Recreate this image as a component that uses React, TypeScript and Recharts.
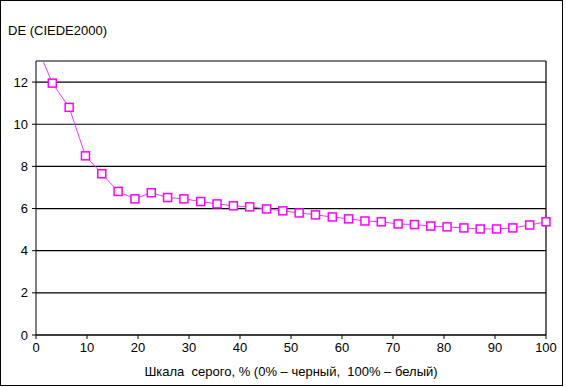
import { CartesianGrid, Line, LineChart, ReferenceLine, XAxis, YAxis } from "recharts";

const grayPercent = [
  0, 3.2, 6.5, 9.7, 12.9, 16.1, 19.4, 22.6, 25.8, 29, 32.3, 35.5, 38.7, 41.9, 45.2, 48.4,
  51.6, 54.8, 58.1, 61.3, 64.5, 67.7, 71, 74.2, 77.4, 80.6, 83.9, 87.1, 90.3, 93.5, 96.8, 100,
];
const deltaE = [
  13.8, 11.95, 10.8, 8.5, 7.65, 6.81, 6.46, 6.75, 6.52, 6.46, 6.33, 6.22, 6.13, 6.08, 5.98, 5.89,
  5.79, 5.7, 5.6, 5.51, 5.41, 5.37, 5.27, 5.24, 5.17, 5.13, 5.08, 5.03, 5.03, 5.08, 5.22, 5.37,
];
const xTicks = [0, 10, 20, 30, 40, 50, 60, 70, 80, 90, 100];
const yTicks = [0, 2, 4, 6, 8, 10, 12];

const data = grayPercent.map((x, i) => ({ x, de: deltaE[i] }));

const font = "'Liberation Sans', Arial, sans-serif";

function SquareDot(props: any) {
  const { cx, cy, payload } = props;
  if (cx == null || cy == null || payload.de > 13) return null;
  return <rect x={cx - 4} y={cy - 4} width={8} height={8} fill="#fff" stroke="#ff00ff" strokeWidth={1.5} />;
}

export default function App() {
  return (
    <div style={{ position: "absolute", left: 0, top: 0, width: 566, height: 387, background: "#fff", fontFamily: font }}>
      <div style={{ position: "absolute", left: 0, top: 0, width: 563, height: 386, boxSizing: "border-box", border: "1px solid #000" }} />
      <div style={{ position: "absolute", left: 8, top: 23, fontSize: 13, color: "#000" }}>DE (CIEDE2000)</div>
      <div style={{ position: "absolute", left: 36, width: 510, top: 364, textAlign: "center", fontSize: 13, color: "#000", whiteSpace: "pre" }}>
        {"Шкала  серого, % (0% – черный,  100% – белый)"}
      </div>
      <LineChart width={566} height={387} data={data} margin={{ top: 61, right: 20, bottom: 0, left: 0 }} style={{ position: "absolute", left: 0, top: 0 }}>
        <CartesianGrid vertical={false} stroke="#000" strokeWidth={1.2} horizontalValues={yTicks} />
        <XAxis
          dataKey="x"
          type="number"
          domain={[0, 100]}
          ticks={xTicks}
          height={52}
          tickSize={4}
          tickMargin={4}
          stroke="#000"
          tick={{ fill: "#000", fontSize: 13, fontFamily: font }}
          interval={0}
        />
        <YAxis
          type="number"
          domain={[0, 13]}
          ticks={yTicks}
          allowDataOverflow
          width={36}
          tickSize={4}
          tickMargin={4}
          stroke="#000"
          tick={{ fill: "#000", fontSize: 13, fontFamily: font }}
          interval={0}
        />
        <ReferenceLine y={13} stroke="#000" strokeWidth={1.2} />
        <ReferenceLine x={100} stroke="#000" strokeWidth={1.2} />
        <Line
          dataKey="de"
          type="linear"
          stroke="#ff33ff"
          strokeWidth={1}
          dot={<SquareDot />}
          activeDot={false}
          isAnimationActive={false}
        />
      </LineChart>
    </div>
  );
}
